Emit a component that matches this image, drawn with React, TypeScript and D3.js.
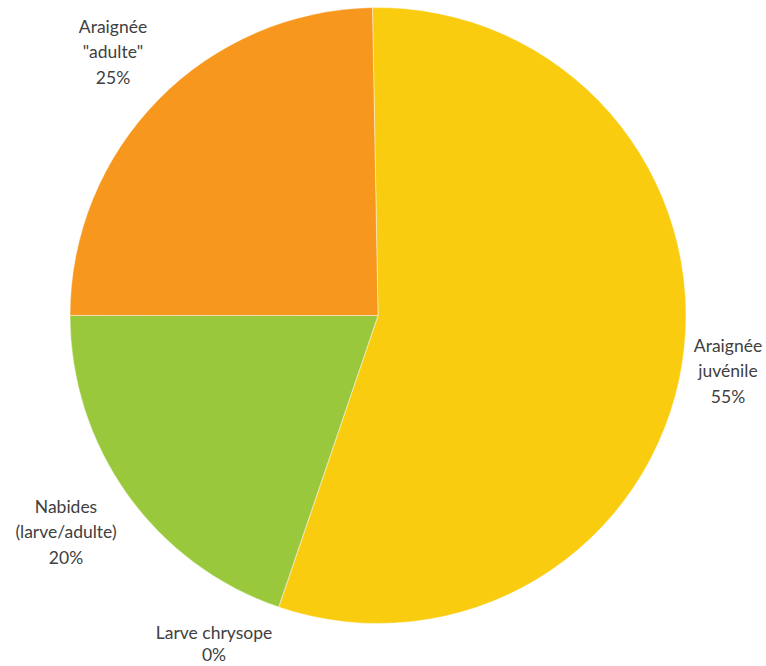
import React from "react";
import * as d3 from "d3";

const categories = ["Araignée juvénile", "Larve chrysope", "Nabides (larve/adulte)", "Araignée \"adulte\""];
const values = [55.5, 0.02, 19.78, 24.71];
const pctLabels = ["55%", "0%", "20%", "25%"];
const labelLines = [["Araignée", "juvénile"], ["Larve chrysope"], ["Nabides", "(larve/adulte)"], ["Araignée", "\"adulte\""]];
const colors = ["#FACC10", "#F5A21E", "#99C83C", "#F7971E"];

const W = 766, H = 666;
const cx = 378, cy = 315.5, R = 308;
const startDeg = -1.03;

// label anchor points (centre x, first baseline y)
const labelPos: [number, number][] = [[728, 352], [214, 639], [66, 513], [113, 33]];

export default function App() {
  const total = d3.sum(values);
  const pie = d3.pie<number>().sort(null).value(d => d)
    .startAngle(startDeg * Math.PI / 180)
    .endAngle((startDeg + 360) * Math.PI / 180);
  const arcs = pie(values.map(v => v / total * 100));
  const arc = d3.arc<d3.PieArcDatum<number>>().innerRadius(0).outerRadius(R);
  return (
    <svg width={W} height={H} style={{ position: "absolute", left: 0, top: 0 }}>
      <rect width={W} height={H} fill="#fff" />
      <g transform={`translate(${cx},${cy})`}>
        {arcs.map((a, i) => (
          <path key={i} d={arc(a) || ""} fill={colors[i]} stroke="#fff" strokeWidth={i === 1 ? 0 : 0.75} strokeOpacity={0.6} />
        ))}
      </g>
      {categories.map((c, i) => {
        const [x, y] = labelPos[i];
        const lines = [...labelLines[i], pctLabels[i]];
        return (
          <text key={c} x={x} y={y} textAnchor="middle" fontFamily="Lato, 'Open Sans', sans-serif" fontSize={17.5} fill="#404040">
            {lines.map((l, j) => (
              <tspan key={j} x={x} y={y + j * (i === 1 ? 21.5 : 25.3)}>{l}</tspan>
            ))}
          </text>
        );
      })}
    </svg>
  );
}
